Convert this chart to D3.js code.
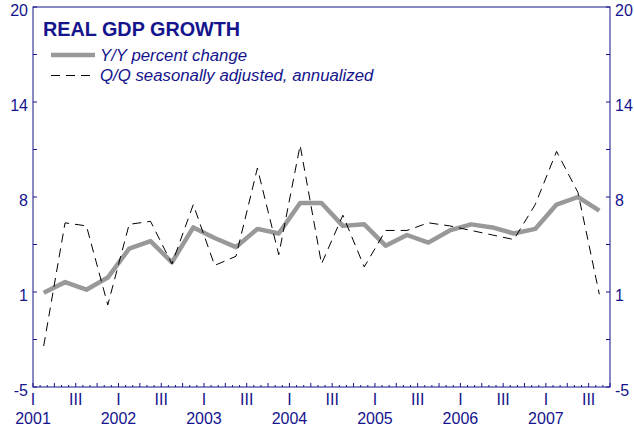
<!DOCTYPE html>
<html>
<head>
<meta charset="utf-8">
<script src="https://cdn.jsdelivr.net/npm/d3@7"></script>
<style>
  body { margin: 0; background: #fff; }
  svg { display: block; font-family: Arial, "Liberation Sans", sans-serif; }
</style>
</head>
<body>
<script>
// quarterly real GDP growth, 2001Q1 - 2007Q3
var quarters = [
  '2001Q1', '2001Q2', '2001Q3', '2001Q4',
  '2002Q1', '2002Q2', '2002Q3', '2002Q4',
  '2003Q1', '2003Q2', '2003Q3', '2003Q4',
  '2004Q1', '2004Q2', '2004Q3', '2004Q4',
  '2005Q1', '2005Q2', '2005Q3', '2005Q4',
  '2006Q1', '2006Q2', '2006Q3', '2006Q4',
  '2007Q1', '2007Q2', '2007Q3'
];
var yoy = [1.2, 1.9, 1.4, 2.2, 4.1, 4.6, 3.2, 5.5, 4.8, 4.2, 5.4, 5.1, 7.1, 7.1,
           5.6, 5.7, 4.3, 5.0, 4.5, 5.3, 5.7, 5.5, 5.1, 5.4, 7.0, 7.5, 6.6];
var qoq = [-2.3, 5.8, 5.6, 0.4, 5.7, 5.9, 3.1, 7.0, 3.0, 3.6, 9.4, 3.7, 10.9, 3.1,
           6.3, 2.9, 5.3, 5.3, 5.8, 5.6, 5.3, 5.0, 4.7, 7.0, 10.5, 7.8, 1.1];

var years = ['2001', '2002', '2003', '2004', '2005', '2006', '2007'];
var quarterLabels = ['I', '', 'III', ''];
var yTicks = [-5, 1.25, 7.5, 13.75, 20];
var yTickLabels = ['-5', '1', '8', '14', '20'];
var seriesNames = ['Y/Y percent change', 'Q/Q seasonally adjusted, annualized'];

var width = 634;
var height = 430;
var navy = '#14148c';
var plot = { left: 33, right: 610, top: 7, bottom: 387 };

var svg = d3.select('body').append('svg')
  .attr('width', width)
  .attr('height', height);

var nQ = quarters.length; // axis runs to start of 2007Q4
var x = d3.scaleLinear().domain([0, nQ]).range([plot.left, plot.right]);
var y = d3.scaleLinear().domain([-5, 20]).range([plot.bottom, plot.top]);

// frame
svg.append('rect')
  .attr('x', plot.left).attr('y', plot.top)
  .attr('width', plot.right - plot.left).attr('height', plot.bottom - plot.top)
  .attr('fill', 'none').attr('stroke', navy).attr('stroke-width', 1);

// y ticks (major + midpoints), inward on both sides
var yMinor = d3.range(0, 9).map(function(i) { return -5 + i * 3.125; });
yMinor.forEach(function(v) {
  svg.append('line')
    .attr('x1', plot.left).attr('x2', plot.left + 4)
    .attr('y1', y(v)).attr('y2', y(v))
    .attr('stroke', navy);
  svg.append('line')
    .attr('x1', plot.right - 4).attr('x2', plot.right)
    .attr('y1', y(v)).attr('y2', y(v))
    .attr('stroke', navy);
});

yTicks.forEach(function(v, i) {
  svg.append('text')
    .attr('x', plot.left - 5).attr('y', y(v) + 9)
    .attr('text-anchor', 'end')
    .attr('font-size', 16).attr('fill', navy)
    .text(yTickLabels[i]);
  svg.append('text')
    .attr('x', plot.right + 5).attr('y', y(v) + 9)
    .attr('font-size', 16).attr('fill', navy)
    .text(yTickLabels[i]);
});

// x ticks: monthly, quarters a bit longer
d3.range(0, nQ * 3 + 1).forEach(function(m) {
  var q = m / 3;
  var len = m % 3 === 0 ? 4 : 2;
  svg.append('line')
    .attr('x1', x(q)).attr('x2', x(q))
    .attr('y1', plot.bottom).attr('y2', plot.bottom - len)
    .attr('stroke', navy);
});

// quarter labels below axis
d3.range(0, nQ).forEach(function(q) {
  var lab = quarterLabels[q % 4];
  if (!lab) return;
  svg.append('text')
    .attr('x', x(q)).attr('y', 405)
    .attr('text-anchor', 'middle')
    .attr('font-size', 16).attr('fill', navy)
    .text(lab);
});

years.forEach(function(yr, i) {
  svg.append('text')
    .attr('x', x(i * 4)).attr('y', 424)
    .attr('text-anchor', 'middle')
    .attr('font-size', 16).attr('fill', navy)
    .text(yr);
});

// series
var line = d3.line()
  .x(function(d, i) { return x(i + 0.5); })
  .y(function(d) { return y(d); });

svg.append('path')
  .datum(yoy)
  .attr('d', line)
  .attr('fill', 'none')
  .attr('stroke', '#999999')
  .attr('stroke-width', 4.5)
  .attr('stroke-linejoin', 'round');

svg.append('path')
  .datum(qoq)
  .attr('d', line)
  .attr('fill', 'none')
  .attr('stroke', '#000')
  .attr('stroke-width', 1)
  .attr('stroke-dasharray', '9,6');

// title + legend
svg.append('text')
  .attr('x', 43).attr('y', 35.5)
  .attr('font-size', 19.8).attr('font-weight', 'bold')
  .attr('fill', navy)
  .text('REAL GDP GROWTH');

svg.append('line')
  .attr('x1', 51).attr('x2', 95)
  .attr('y1', 55).attr('y2', 55)
  .attr('stroke', '#999999').attr('stroke-width', 4.5);
svg.append('line')
  .attr('x1', 51).attr('x2', 95)
  .attr('y1', 75.5).attr('y2', 75.5)
  .attr('stroke', '#000').attr('stroke-width', 1)
  .attr('stroke-dasharray', '9,6');

seriesNames.forEach(function(s, i) {
  svg.append('text')
    .attr('x', 100).attr('y', 60.5 + i * 20)
    .attr('font-size', 16.8).attr('font-style', 'italic')
    .attr('fill', navy)
    .text(s);
});
</script>
</body>
</html>
